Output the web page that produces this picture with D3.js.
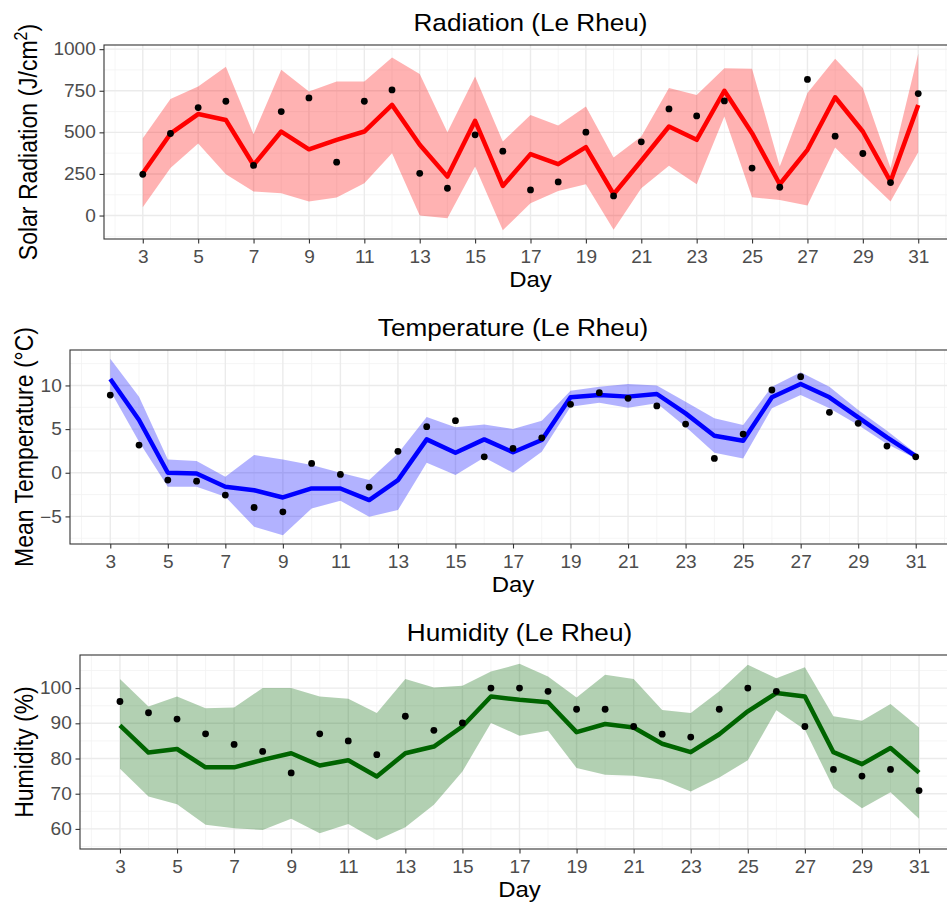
<!DOCTYPE html>
<html>
<head>
<meta charset="utf-8">
<script src="https://cdn.jsdelivr.net/npm/d3@7"></script>
<style>
  body { margin: 0; background: white; }
  svg text { font-family: "Liberation Sans", Arial, sans-serif; }
</style>
</head>
<body>
<script>
(function() {

  // days on the x axis and the labelled ones
  const days = [3, 4, 5, 6, 7, 8, 9, 10, 11, 12, 13, 14, 15, 16, 17, 18, 19, 20,
                21, 22, 23, 24, 25, 26, 27, 28, 29, 30, 31];
  const dayTicks = [3, 5, 7, 9, 11, 13, 15, 17, 19, 21, 23, 25, 27, 29, 31];

  // radiation (J/cm2)
  const radMean = [254, 492, 610, 574, 304, 505, 398, 455, 505, 665, 425, 234, 569, 178,
                   369, 309, 411, 128, 329, 535, 455, 750, 495, 188, 395, 711, 505, 204, 665];
  const radObs  = [248, 493, 649, 687, 301, 625, 707, 321, 687, 755, 254, 164, 485, 387,
                   154, 202, 501, 118, 443, 641, 599, 689, 285, 170, 818, 477, 373, 198, 733];
  const radLow  = [50, 285, 433, 248, 144, 134, 84, 108, 194, 375, 0, -16, 295, -88,
                   74, 148, 188, -86, 164, 299, 188, 595, 110, 94, 60, 409, 244, 84, 381];
  const radHigh = [465, 701, 775, 894, 489, 876, 745, 806, 806, 950, 850, 501, 836, 445,
                   605, 541, 655, 349, 475, 766, 725, 886, 882, 295, 736, 942, 766, 285, 972];
  const radTicks = [0, 250, 500, 750, 1000];

  // mean temperature (C)
  const tempMean = [10.74, 6.04, 0, -0.08, -1.6, -2.0, -2.83, -1.8, -1.8, -3.13, -0.84, 3.82, 2.29, 3.82, 2.35,
                    3.75, 8.64, 8.9, 8.72, 9.02, 6.8, 4.24, 3.67, 8.64, 10.17, 8.64, 6.35, 4.05, 1.91];
  const tempObs  = [8.9, 3.17, -0.84, -0.96, -2.56, -3.98, -4.47, 1.07, -0.19, -1.64, 2.45, 5.28, 5.96, 1.83, 2.79,
                    4.0, 7.84, 9.17, 8.52, 7.65, 5.58, 1.64, 4.43, 9.48, 11.0, 6.92, 5.66, 3.06, 1.83];
  const tempLow  = [9.4, 3.55, -1.6, -1.6, -2.75, -6.19, -7.15, -4.1, -3.2, -5.05, -4.28, 1.15, -0.27, 1.76, 0.0,
                    2.41, 7.57, 8.03, 7.45, 7.95, 5.28, 2.29, 1.64, 7.38, 8.9, 7.38, 5.47, 3.29, 1.64];
  const tempHigh = [13.05, 8.7, 1.53, 1.34, -0.46, 2.03, 1.53, 0.88, 0, -0.84, 2.2, 6.4, 5.2, 5.54, 5.0,
                    5.96, 9.4, 9.86, 10.17, 9.98, 8.14, 6.23, 5.47, 9.86, 11.5, 9.86, 7.19, 4.82, 2.22];
  const tempTicks = [-5, 0, 5, 10];

  // humidity (%)
  const humMean = [89.4, 81.7, 82.7, 77.5, 77.5, 79.6, 81.5, 78.0, 79.5, 74.9, 81.5, 83.4, 89.1, 97.6, 96.7,
                   96.0, 87.5, 89.8, 88.8, 84.2, 81.8, 86.9, 93.4, 98.6, 97.6, 81.8, 78.4, 83.0, 76.0];
  const humObs  = [96.2, 93.0, 91.2, 87.0, 84.0, 82.0, 75.9, 87.0, 85.0, 81.1, 92.0, 88.0, 90.1, 100, 100,
                   99.1, 94.0, 94.0, 89.1, 86.9, 86.1, 94.0, 100, 99.1, 89.1, 76.9, 75.0, 76.9, 70.9];
  const humLow  = [77.1, 69.2, 67.0, 61.2, 60.2, 59.7, 62.9, 58.8, 61.4, 56.8, 60.5, 66.9, 76.3, 90.1, 86.5,
                   87.9, 77.3, 75.4, 75.1, 74.0, 70.6, 74.6, 79.5, 93.7, 88.2, 71.6, 65.9, 70.4, 62.9];
  const humHigh = [102.6, 94.8, 97.6, 94.3, 94.5, 100, 100, 97.6, 97.0, 92.9, 102.6, 100.2, 100.7, 104.7, 106.9,
                   103.3, 97.3, 103.8, 102.6, 93.8, 92.9, 99.1, 106.6, 102.8, 105.9, 92.0, 90.7, 95.5, 88.8];
  const humTicks = [60, 70, 80, 90, 100];

  let svgContainer = "";
  const stretch = 1.09; // text in the picture is a bit wider than tall

  window.onload = function() {
    svgContainer = d3.select('body').append('svg')
      .attr('width', 947)
      .attr('height', 904)
      .style('background', 'white');

    drawPanel({
      title: 'Radiation (Le Rheu)', yLabel: 'Solar Radiation (J/cm', sup: '2',
      mean: radMean, obs: radObs, low: radLow, high: radHigh, yTicks: radTicks,
      colour: '#FF0000', top: 45, bottom: 239, left: 104, right: 957, labelX: 37
    });

    drawPanel({
      title: 'Temperature (Le Rheu)', yLabel: 'Mean Temperature (\u00B0C)',
      mean: tempMean, obs: tempObs, low: tempLow, high: tempHigh, yTicks: tempTicks,
      colour: '#0000FF', top: 350, bottom: 544, left: 70, right: 956, labelX: 33
    });

    drawPanel({
      title: 'Humidity (Le Rheu)', yLabel: 'Humidity (%)',
      mean: humMean, obs: humObs, low: humLow, high: humHigh, yTicks: humTicks,
      colour: '#006400', top: 655, bottom: 849, left: 80, right: 959, labelX: 33
    });
  }

  // minor breaks half way between the major ones, like ggplot
  function minorBreaks(major, domain) {
    let step = major[1] - major[0];
    let out = [];
    for (let v = major[0] - step / 2; v >= domain[0]; v -= step) out.push(v);
    major.forEach((m) => { if (m + step / 2 <= domain[1]) out.push(m + step / 2); });
    return out;
  }

  function drawPanel(p) {
    // 5% expansion of the data range on both scales
    let xSpan = d3.max(days) - d3.min(days);
    let xScale = d3.scaleLinear()
      .domain([d3.min(days) - xSpan * 0.05, d3.max(days) + xSpan * 0.05])
      .range([p.left, p.right]);

    let all = p.low.concat(p.high, p.obs, p.mean);
    let yMin = d3.min(all), yMax = d3.max(all);
    let pad = (yMax - yMin) * 0.05;
    let yScale = d3.scaleLinear()
      .domain([yMin - pad, yMax + pad])
      .range([p.bottom, p.top]);

    let g = svgContainer.append('g');

    // minor grid
    g.selectAll('.vminor')
      .data(minorBreaks(dayTicks, xScale.domain()))
      .enter().append('line')
        .attr('x1', xScale).attr('x2', xScale)
        .attr('y1', p.top).attr('y2', p.bottom)
        .attr('stroke', '#F2F2F2').attr('stroke-width', 0.8);
    g.selectAll('.hminor')
      .data(minorBreaks(p.yTicks, yScale.domain()))
      .enter().append('line')
        .attr('y1', yScale).attr('y2', yScale)
        .attr('x1', p.left).attr('x2', p.right)
        .attr('stroke', '#F2F2F2').attr('stroke-width', 0.8);

    // major grid
    g.selectAll('.vmajor')
      .data(dayTicks)
      .enter().append('line')
        .attr('x1', xScale).attr('x2', xScale)
        .attr('y1', p.top).attr('y2', p.bottom)
        .attr('stroke', '#EBEBEB').attr('stroke-width', 1.4);
    g.selectAll('.hmajor')
      .data(p.yTicks)
      .enter().append('line')
        .attr('y1', yScale).attr('y2', yScale)
        .attr('x1', p.left).attr('x2', p.right)
        .attr('stroke', '#EBEBEB').attr('stroke-width', 1.4);

    // confidence ribbon
    let area = d3.area()
      .x((d, i) => xScale(days[i]))
      .y0((d, i) => yScale(p.low[i]))
      .y1((d, i) => yScale(p.high[i]));
    g.append('path')
      .datum(p.low)
      .attr('d', area)
      .attr('fill', p.colour)
      .attr('fill-opacity', 0.3);

    // mean line
    let line = d3.line()
      .x((d, i) => xScale(days[i]))
      .y((d) => yScale(d));
    g.append('path')
      .datum(p.mean)
      .attr('d', line)
      .attr('fill', 'none')
      .attr('stroke', p.colour)
      .attr('stroke-width', 4.5)
      .attr('stroke-linejoin', 'round');

    // observed points
    g.selectAll('.dot')
      .data(p.obs)
      .enter().append('circle')
        .attr('cx', (d, i) => xScale(days[i]))
        .attr('cy', (d) => yScale(d))
        .attr('r', 3.4)
        .attr('fill', 'black');

    // panel border
    g.append('rect')
      .attr('x', p.left).attr('y', p.top)
      .attr('width', p.right - p.left).attr('height', p.bottom - p.top)
      .attr('fill', 'none')
      .attr('stroke', '#333333')
      .attr('stroke-width', 1.1);

    // axes
    let xAxis = d3.axisBottom(xScale).tickValues(dayTicks).tickFormat(d3.format('d'))
      .tickSize(4.5).tickPadding(7);
    let xg = g.append('g')
      .attr('transform', 'translate(0,' + p.bottom + ')')
      .call(xAxis);
    styleAxis(xg);

    let yAxis = d3.axisLeft(yScale).tickValues(p.yTicks).tickFormat(d3.format('d'))
      .tickSize(4.5).tickPadding(3);
    let yg = g.append('g')
      .attr('transform', 'translate(' + p.left + ',0)')
      .call(yAxis);
    styleAxis(yg);

    let cx = (p.left + p.right) / 2;

    // title
    g.append('text')
      .attr('transform', 'translate(' + cx + ',' + (p.top - 14) + ') scale(' + stretch + ',1)')
      .attr('text-anchor', 'middle')
      .style('font-size', '24px')
      .attr('fill', 'black')
      .text(p.title);

    // x axis title
    g.append('text')
      .attr('transform', 'translate(' + cx + ',' + (p.bottom + 48) + ') scale(' + stretch + ',1)')
      .attr('text-anchor', 'middle')
      .style('font-size', '22px')
      .attr('fill', 'black')
      .text('Day');

    // y axis title
    let cy = (p.top + p.bottom) / 2;
    let yl = g.append('text')
      .attr('transform', 'translate(' + p.labelX + ',' + cy + ') scale(' + stretch + ',1) rotate(-90)')
      .attr('text-anchor', 'middle')
      .style('font-size', '23px')
      .attr('fill', 'black');
    yl.append('tspan').text(p.yLabel);
    if (p.sup) {
      yl.append('tspan').attr('dy', -9).style('font-size', '16px').text(p.sup);
      yl.append('tspan').attr('dy', 9).text(')');
    }
  }

  function styleAxis(ax) {
    ax.attr('font-size', null).attr('font-family', null);
    ax.select('.domain').remove();
    ax.selectAll('.tick line')
      .attr('stroke', '#333333')
      .attr('stroke-width', 1.1);
    ax.selectAll('.tick text')
      .attr('fill', '#4D4D4D')
      .attr('transform', 'scale(' + stretch + ',1)')
      .style('font-size', '17.5px');
  }
})();
</script>
</body>
</html>
